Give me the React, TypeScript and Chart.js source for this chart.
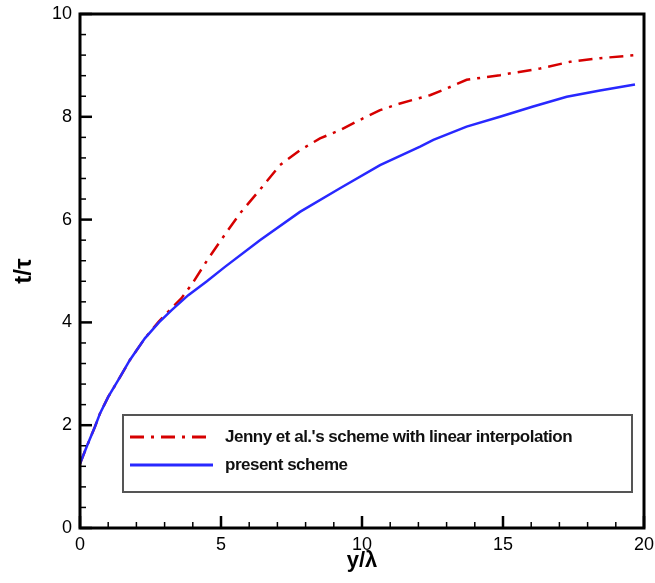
import React, { useEffect, useRef } from "react";
import { Chart, registerables } from "chart.js";

Chart.register(...registerables);

// present scheme (blue)
const presentX = [0, 0.25, 0.53, 0.71, 1.0, 1.36, 1.77, 2.3, 2.8, 3.25, 3.84, 4.5, 5.14, 6.38, 7.8, 9.22, 10.64, 12.06, 12.53, 13.71, 14.89, 16.07, 17.26, 18.44, 19.68];
const presentT = [1.25, 1.6, 1.97, 2.23, 2.55, 2.88, 3.27, 3.69, 4.0, 4.24, 4.53, 4.8, 5.08, 5.6, 6.15, 6.61, 7.06, 7.42, 7.55, 7.81, 8.0, 8.2, 8.39, 8.51, 8.63];

// Jenny et al.'s scheme with linear interpolation (red)
const jennyX = [0, 0.25, 0.53, 0.71, 1.0, 1.36, 1.77, 2.3, 2.8, 3.25, 3.6, 4.0, 4.5, 5.0, 5.67, 6.38, 7.09, 7.8, 8.51, 9.22, 9.93, 10.64, 11.35, 12.41, 13.0, 13.71, 14.89, 16.31, 17.38, 18.44, 19.68];
const jennyT = [1.25, 1.6, 1.97, 2.23, 2.55, 2.88, 3.27, 3.69, 4.02, 4.28, 4.47, 4.77, 5.2, 5.6, 6.12, 6.58, 7.06, 7.35, 7.58, 7.74, 7.94, 8.13, 8.26, 8.42, 8.55, 8.72, 8.81, 8.94, 9.07, 9.14, 9.2];

const seriesLabels = ["Jenny et al.'s scheme with linear interpolation", "present scheme"];
const xTitle = "y/λ";
const yTitle = "t/τ";
const xMin = 0, xMax = 20, xStep = 5, xMinorStep = 1;
const yMin = 0, yMax = 10, yStep = 2, yMinorStep = 0.4;

const RED = "rgb(214,0,0)";
const BLUE = "rgb(40,40,255)";
const RED_DASH = [14, 7, 3, 7];

const framePlugin = {
  id: "framePlugin",
  afterDraw(chart: any) {
    const { ctx, chartArea: a, scales } = chart;
    const xs = scales.x, ys = scales.y;
    ctx.save();
    // ticks (inside)
    ctx.strokeStyle = "#000";
    const nx = Math.round((xMax - xMin) / xMinorStep);
    for (let i = 0; i <= nx; i++) {
      const v = xMin + i * xMinorStep;
      const major = Math.abs(v / xStep - Math.round(v / xStep)) < 1e-6;
      const px = xs.getPixelForValue(v);
      ctx.lineWidth = major ? 2.5 : 1.5;
      ctx.beginPath();
      ctx.moveTo(px, a.bottom);
      ctx.lineTo(px, a.bottom - (major ? 12 : 6));
      ctx.stroke();
    }
    const ny = Math.round((yMax - yMin) / yMinorStep);
    for (let i = 0; i <= ny; i++) {
      const v = yMin + i * yMinorStep;
      const major = Math.abs(v / yStep - Math.round(v / yStep)) < 1e-6;
      const py = ys.getPixelForValue(v);
      ctx.lineWidth = major ? 2.5 : 1.5;
      ctx.beginPath();
      ctx.moveTo(a.left, py);
      ctx.lineTo(a.left + (major ? 12 : 6), py);
      ctx.stroke();
    }
    // frame
    ctx.lineWidth = 3;
    ctx.strokeRect(a.left, a.top, a.right - a.left, a.bottom - a.top);

    // legend box
    const bx = a.left + 43, by = a.bottom - 113, bw = 509, bh = 77;
    ctx.fillStyle = "#fff";
    ctx.fillRect(bx, by, bw, bh);
    ctx.strokeStyle = "#555";
    ctx.lineWidth = 2;
    ctx.strokeRect(bx, by, bw, bh);
    const entries = [
      { label: seriesLabels[0], color: RED, dash: RED_DASH, y: by + 22 },
      { label: seriesLabels[1], color: BLUE, dash: [], y: by + 50 },
    ];
    for (const e of entries) {
      ctx.strokeStyle = e.color;
      ctx.lineWidth = 3;
      ctx.setLineDash(e.dash);
      ctx.beginPath();
      ctx.moveTo(bx + 7, e.y);
      ctx.lineTo(bx + 90, e.y);
      ctx.stroke();
      ctx.setLineDash([]);
      ctx.fillStyle = "#111";
      ctx.font = "bold 17px 'Liberation Sans', Arial, sans-serif";
      ctx.textBaseline = "middle";
      ctx.textAlign = "left";
      (ctx as any).letterSpacing = "-0.5px";
      ctx.fillText(e.label, bx + 102, e.y);
      (ctx as any).letterSpacing = "0px";
    }
    ctx.restore();
  },
};

export default function App() {
  const ref = useRef<HTMLCanvasElement>(null);
  useEffect(() => {
    if (!ref.current) return;
    const tickFont = { family: "'Liberation Sans', Arial, sans-serif", size: 18 };
    const chart = new Chart(ref.current, {
      type: "line",
      data: {
        datasets: [
          {
            label: seriesLabels[1],
            data: presentX.map((x, i) => ({ x, y: presentT[i] })),
            borderColor: BLUE,
            borderWidth: 2.5,
            pointRadius: 0,
            tension: 0,
            order: 0,
          },
          {
            label: seriesLabels[0],
            data: jennyX.map((x, i) => ({ x, y: jennyT[i] })),
            borderColor: RED,
            borderWidth: 2.5,
            borderDash: RED_DASH,
            pointRadius: 0,
            tension: 0,
            order: 1,
          },
        ],
      },
      options: {
        animation: false,
        responsive: false,
        layout: { padding: { top: 14, right: 11, left: 0, bottom: 0 } },
        plugins: { legend: { display: false }, tooltip: { enabled: false } },
        scales: {
          x: {
            type: "linear",
            min: xMin,
            max: xMax,
            grid: { display: false, drawTicks: false },
            border: { display: false },
            ticks: { stepSize: xStep, color: "#000", font: tickFont, padding: 6, maxRotation: 0 },
            title: {
              display: true,
              text: xTitle,
              color: "#000",
              font: { family: "'Liberation Sans', Arial, sans-serif", size: 22, weight: "bold" },
              padding: { top: 0, bottom: 9 },
            },
            afterFit: (s: any) => { s.height = 55; s.paddingLeft = 0; s.paddingRight = 0; },
          },
          y: {
            type: "linear",
            min: yMin,
            max: yMax,
            grid: { display: false, drawTicks: false },
            border: { display: false },
            ticks: { stepSize: yStep, color: "#000", font: tickFont, padding: 8 },
            title: {
              display: true,
              text: yTitle,
              color: "#000",
              font: { family: "'Liberation Sans', Arial, sans-serif", size: 24, weight: "bold" },
              padding: { top: 10, bottom: 0 },
            },
            afterFit: (s: any) => { s.width = 80; s.paddingTop = 0; s.paddingBottom = 0; },
          },
        },
      },
      plugins: [framePlugin],
    } as any);
    return () => chart.destroy();
  }, []);
  return (
    <div style={{ position: "absolute", left: 0, top: 0, width: 655, height: 583, background: "#fff" }}>
      <canvas ref={ref} width={655} height={583} style={{ width: 655, height: 583 }} />
    </div>
  );
}
